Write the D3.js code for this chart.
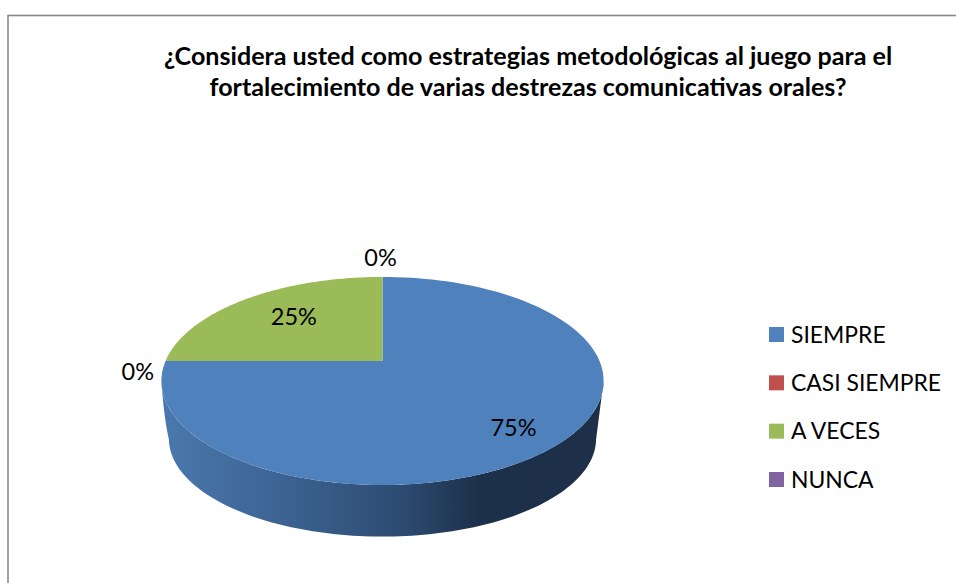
<!DOCTYPE html>
<html><head><meta charset="utf-8">
<script src="https://cdnjs.cloudflare.com/ajax/libs/d3/7.8.5/d3.min.js"></script>
<style>html,body{margin:0;padding:0;background:#fff}svg{display:block}text{font-family:Lato,"Open Sans",sans-serif;fill:#000}</style>
</head><body><svg id="c" width="956" height="583"></svg>
<script>
const titleLines = ["¿Considera usted como estrategias metodológicas al juego para el",
                    "fortalecimiento de varias destrezas comunicativas orales?"];
const categories = ["SIEMPRE", "CASI SIEMPRE", "A VECES", "NUNCA"];
const values = [75, 0, 25, 0];
const colors = ["#4f81bd", "#c0504d", "#9bbb59", "#8064a2"];

const W = 956, H = 583;
const svg = d3.select("#c");
const defs = svg.append("defs");
const grad = defs.append("linearGradient").attr("id","wall").attr("gradientUnits","userSpaceOnUse")
  .attr("x1",162).attr("x2",603).attr("y1",0).attr("y2",0);
[[0,"#4a78ae"],[0.3,"#3b618f"],[0.55,"#2c4a70"],[0.72,"#1d3049"],[1,"#1e3049"]]
  .forEach(s=>grad.append("stop").attr("offset",s[0]).attr("stop-color",s[1]));

// frame (runs off the right and bottom of the picture)
svg.append("rect").attr("x",8).attr("y",15.5).attr("width",W).attr("height",H)
  .attr("fill","#fff").attr("stroke","#8a8a8a").attr("stroke-width",1.6);

// title
svg.append("g").selectAll("text").data(titleLines).join("text")
  .attr("x",528).attr("y",(d,i)=>65+i*31).attr("text-anchor","middle")
  .attr("font-size",25.1).attr("font-weight",700).text(d=>d);

// tilted-pie projection: pie angle + radius -> screen
const cx = 382.5, cy = 361, persp = 0.192, radX = 217, radY = 100.2;
function project(a, r=1, sx=1, sy=1, dy=0){
  const u = r*Math.sin(a), v = r*Math.cos(a), w = 1 + persp*v;
  return [cx + sx*radX*u/w, cy + dy - sy*radY*v/w];
}
const pie = d3.pie().sort(null).value(d=>d)(values);
const line = d3.line();
const sweep = (a0,a1,f)=>d3.range(0,121).map(i=>f(a0+(a1-a0)*i/120));

// side wall
const aR = Math.PI-Math.asin(0.98), aL = Math.PI+Math.asin(0.98);
const topEdge = sweep(aR,aL,a=>project(a));
const botEdge = sweep(aL,aR,a=>project(a,1,0.966,0.94,59));
const edge = (p,q,bow)=>`Q${(p[0]+q[0])/2+bow},${p[1]*0.35+q[1]*0.65} ${q[0]},${q[1]}`;
const tE = topEdge[topEdge.length-1], bS = botEdge[0], bE = botEdge[botEdge.length-1], tS = topEdge[0];
svg.append("path").attr("fill","url(#wall)")
  .attr("d", line(topEdge)+edge(tE,bS,-1)+line(botEdge).replace(/^M/,"L")+edge(bE,tS,1)+"Z");

// top face
svg.append("g").selectAll("path").data(pie.filter(d=>d.value>0)).join("path")
  .attr("fill",d=>colors[d.index])
  .attr("d",d=>line([[cx,cy],...sweep(d.startAngle,d.endAngle,a=>project(a))])+"Z");

// data labels
const labelPlace = {0:{r:0.77,dy:5,dx:-1},1:{r:1.1,dy:10,dx:-6},2:{r:0.6,dy:-6,dx:-3.5},3:{r:1.2,dy:-6,dx:-2}};
svg.append("g").selectAll("text").data(pie).join("text")
  .attr("text-anchor","middle").attr("font-size",23.5).attr("dominant-baseline","central")
  .attr("transform",d=>{
    const m=labelPlace[d.index], mid=(d.startAngle+d.endAngle)/2, p=project(mid,m.r);
    return `translate(${p[0]+(m.dx||0)},${p[1]+m.dy})`;})
  .text(d=>d.value+"%");

// legend
const ly = d3.scalePoint().domain(categories).range([334.5,479.5]);
const lg = svg.append("g").selectAll("g").data(categories).join("g")
  .attr("transform",d=>`translate(769,${ly(d)})`);
lg.append("rect").attr("y",-7.5).attr("width",15).attr("height",15).attr("fill",(d,i)=>colors[i]);
lg.append("text").attr("x",22).attr("dy","0.35em").attr("font-size",22.9).text(d=>d);
</script></body></html>
